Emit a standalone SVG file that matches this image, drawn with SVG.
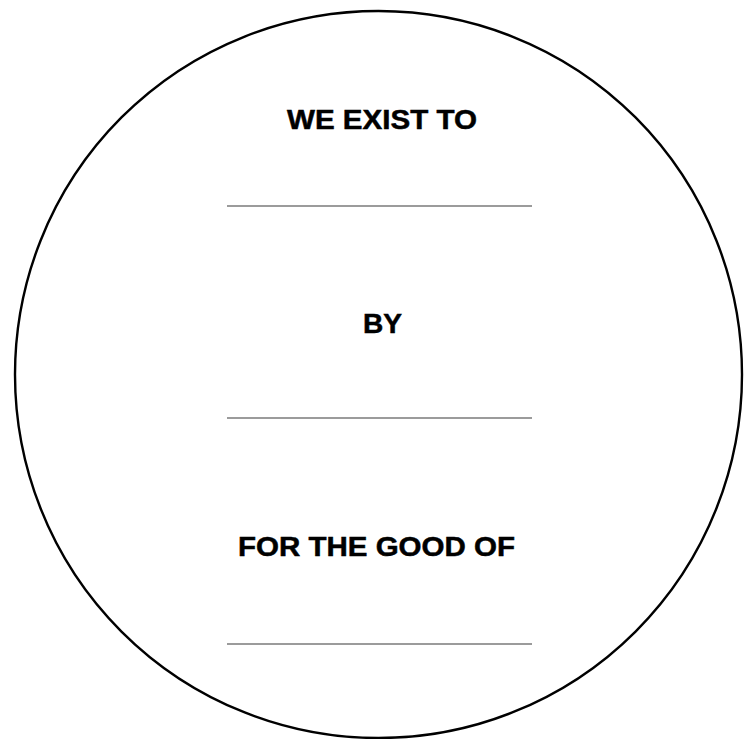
<svg xmlns="http://www.w3.org/2000/svg" width="745" height="739" viewBox="0 0 745 739">
<style>
.t{font-family:"Liberation Sans",Arial,sans-serif;font-weight:bold;font-size:27px;fill:#000;stroke:#000;stroke-width:0.5;text-anchor:start}
.ln{stroke:#7a7a7a;stroke-width:1.5;fill:none}
</style>
<rect width="745" height="739" fill="#fff"/>
<g id="circle"><circle cx="378.5" cy="374.5" r="363.5" fill="none" stroke="#000" stroke-width="2.4"/></g>
<g id="we-exist-to"><text class="t" x="287" y="129" textLength="190" lengthAdjust="spacingAndGlyphs">WE EXIST TO</text><line class="ln" x1="227" y1="206" x2="532" y2="206"/></g>
<g id="by"><text class="t" x="363" y="333" textLength="39" lengthAdjust="spacingAndGlyphs">BY</text><line class="ln" x1="227" y1="418" x2="532" y2="418"/></g>
<g id="for-the-good-of"><text class="t" x="238" y="556" textLength="277" lengthAdjust="spacingAndGlyphs">FOR THE GOOD OF</text><line class="ln" x1="227" y1="644" x2="532" y2="644"/></g>
</svg>
